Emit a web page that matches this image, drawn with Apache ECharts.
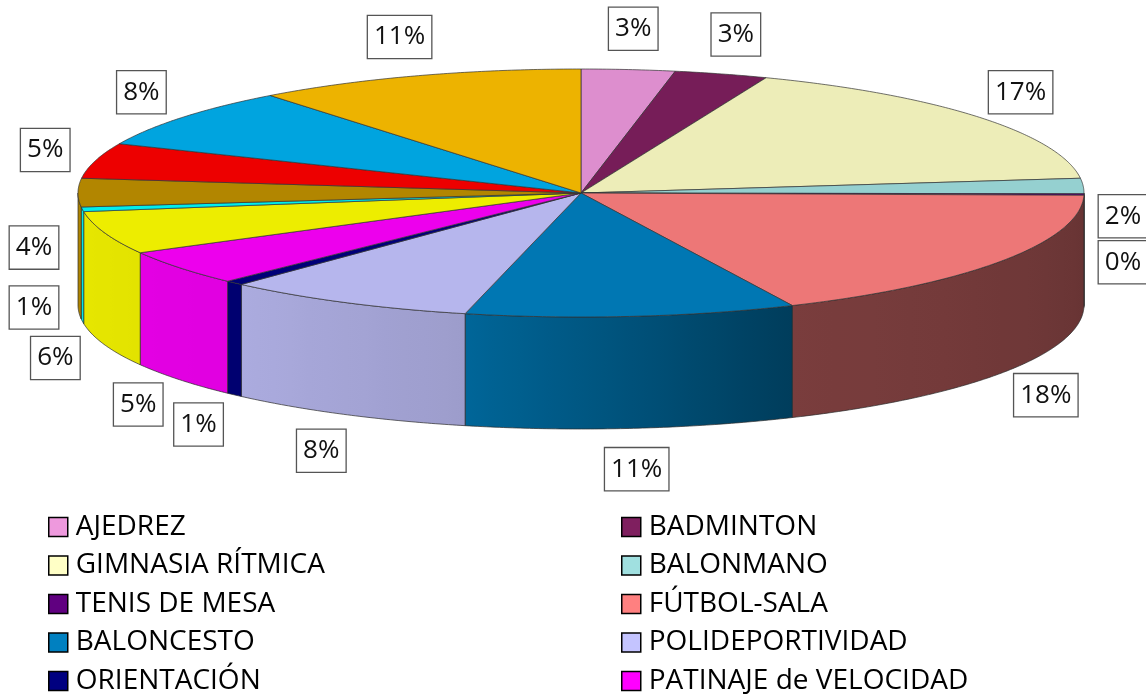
<!DOCTYPE html>
<html><head><meta charset="utf-8">
<script src="https://cdn.jsdelivr.net/npm/echarts@6/dist/echarts.min.js"></script>
<style>html,body{margin:0;padding:0;background:#fff}#c{width:1146px;height:695px}</style>
</head><body><div id="c"></div>
<script>
// ---- data ----
const categories = ['AJEDREZ','BADMINTON','GIMNASIA RÍTMICA','BALONMANO','TENIS DE MESA','FÚTBOL-SALA','BALONCESTO','POLIDEPORTIVIDAD','ORIENTACIÓN','PATINAJE de VELOCIDAD','ATLETISMO','NATACIÓN','JUDO','TENIS','VOLEIBOL','FÚTBOL'];
const values = [3.0,3.0,17.1,2.0,0.2,17.8,10.6,8.1,0.6,4.6,5.6,0.6,3.7,4.6,7.9,10.6];
const colors = ['#EE99DD','#7F1F5F','#FFFFC6','#A0E0E0','#600080','#FF8080','#0080C0','#C4C4FF','#000080','#FF00FF','#FFFF00','#00FFFF','#BF9000','#FF0000','#00B0F0','#FFC000'];
const legendLeft = ['AJEDREZ','GIMNASIA RÍTMICA','TENIS DE MESA','BALONCESTO','ORIENTACIÓN'];
const legendRight = ['BADMINTON','BALONMANO','FÚTBOL-SALA','POLIDEPORTIVIDAD','PATINAJE de VELOCIDAD'];

// ---- geometry / style ----
const G = {cx:581, cy:193, rx:503, ry:124, depth:112};
const LBL = {Rx:555, Ry:165, h:42, font:'26px "Open Sans"'};
const total = values.reduce((a,b)=>a+b,0);
const starts=[], ends=[];
let acc=0;
values.forEach(v=>{starts.push(acc/total*360); acc+=v; ends.push(acc/total*360);});
function pt(deg, dy){const r=deg*Math.PI/180; return [G.cx+G.rx*Math.sin(r), G.cy-G.ry*Math.cos(r)+(dy||0)];}
function shade(hex,f){const n=parseInt(hex.slice(1),16);
  const r=Math.min(255,Math.round(((n>>16)&255)*f)), g=Math.min(255,Math.round(((n>>8)&255)*f)), b=Math.min(255,Math.round((n&255)*f));
  return 'rgb('+r+','+g+','+b+')';}
const wallTable=[[90,0.40],[156,0.48],[194,0.80],[225,0.88],[270,0.91]];
function wallFactor(t){
  if(t<=wallTable[0][0]) return wallTable[0][1];
  for(let i=1;i<wallTable.length;i++){
    if(t<=wallTable[i][0]){const a=wallTable[i-1], b=wallTable[i]; return a[1]+(b[1]-a[1])*(t-a[0])/(b[0]-a[0]);}
  }
  return wallTable[wallTable.length-1][1];
}

// ---- label layout (derived from the data angles) ----
const labels = values.map((v,i)=>{
  const mid=(starts[i]+ends[i])/2, r=mid*Math.PI/180;
  const txt=Math.round(v/total*100)+'%';
  const w=12+txt.length*16;
  const c=Math.cos(r);
  const dF=Math.max(0,Math.min(1,0.5-c*2.5));
  let x=G.cx+LBL.Rx*Math.sin(r), y=G.cy-LBL.Ry*c+G.depth*dF;
  return {txt,x,y,w,h:LBL.h};
});
labels.forEach(l=>{l.x=Math.max(l.w/2+12,Math.min(1146-l.w/2-1,l.x));});
for(let it=0;it<60;it++){
  for(let a=0;a<labels.length;a++)for(let b=a+1;b<labels.length;b++){
    const A=labels[a],B=labels[b];
    const ox=(A.w+B.w)/2+2-Math.abs(A.x-B.x), need=46, oy=need-Math.abs(A.y-B.y);
    if(ox>0&&oy>0){const s=(A.y<=B.y)?1:-1; A.y-=s*oy/2; B.y+=s*oy/2;}
  }
}

function renderSlice(i){
  return function(params, api){
    const children=[];
    const a1=starts[i], a2=ends[i];
    const w1=Math.max(a1,90), w2=Math.min(a2,270);
    if(w2>w1){
      const n=Math.max(2,Math.ceil((w2-w1)/0.5));
      const pts=[];
      for(let k=0;k<=n;k++) pts.push(pt(w1+(w2-w1)*k/n));
      for(let k=n;k>=0;k--) pts.push(pt(w1+(w2-w1)*k/n,G.depth));
      const xa=pt(w1)[0], xb=pt(w2)[0];
      const xmin=Math.min(xa,xb), xmax=Math.max(xa,xb);
      let fill;
      if(xmax-xmin<1){fill=shade(colors[i],wallFactor((w1+w2)/2));}
      else{
        const stops=[];
        const m=12;
        for(let k=0;k<=m;k++){const t=w2-(w2-w1)*k/m; stops.push({offset:Math.max(0,Math.min(1,(pt(t)[0]-xmin)/(xmax-xmin))),color:shade(colors[i],wallFactor(t))});}
        stops.sort((p,q)=>p.offset-q.offset);
        fill=new echarts.graphic.LinearGradient(0,0,1,0,stops);
      }
      children.push({type:'polygon',shape:{points:pts},style:{fill:fill,stroke:'#2a2a2a',lineWidth:0.7},z2:1});
    }
    const n2=Math.max(2,Math.ceil((a2-a1)/0.5));
    const tp=[[G.cx,G.cy]];
    for(let k=0;k<=n2;k++) tp.push(pt(a1+(a2-a1)*k/n2));
    children.push({type:'polygon',shape:{points:tp},style:{fill:shade(colors[i],0.93),stroke:'#333',lineWidth:0.7},z2:2});
    const L=labels[i];
    children.push({type:'text',z2:10,style:{text:L.txt,x:L.x,y:L.y,align:'center',verticalAlign:'middle',font:LBL.font,fill:'#111',lineHeight:31,
      backgroundColor:'#fff',borderColor:'#555',borderWidth:1.3,padding:[6,6,5,6]}});
    return {type:'group',children:children};
  };
}

const series = categories.map((name,i)=>({
  type:'custom', name:name, coordinateSystem:'none', data:[[i]],
  itemStyle:{color:colors[i]}, silent:true, animation:false,
  renderItem: renderSlice(i)
}));

const legendCommon = {orient:'vertical', top:512, height:260, itemWidth:19, itemHeight:19, itemGap:8.5, icon:'rect', selectedMode:false, padding:0,
  itemStyle:{borderColor:'#000',borderWidth:1.5},
  textStyle:{fontFamily:'Open Sans',fontSize:28,color:'#000',lineHeight:30,padding:[0,0,0,3]}};

const chart = echarts.init(document.getElementById('c'), null, {renderer:'canvas'});
chart.setOption({
  backgroundColor:'#fff',
  animation:false,
  legend:[Object.assign({left:48, data:legendLeft}, legendCommon), Object.assign({left:621, data:legendRight}, legendCommon)],
  series: series
});
</script></body></html>
